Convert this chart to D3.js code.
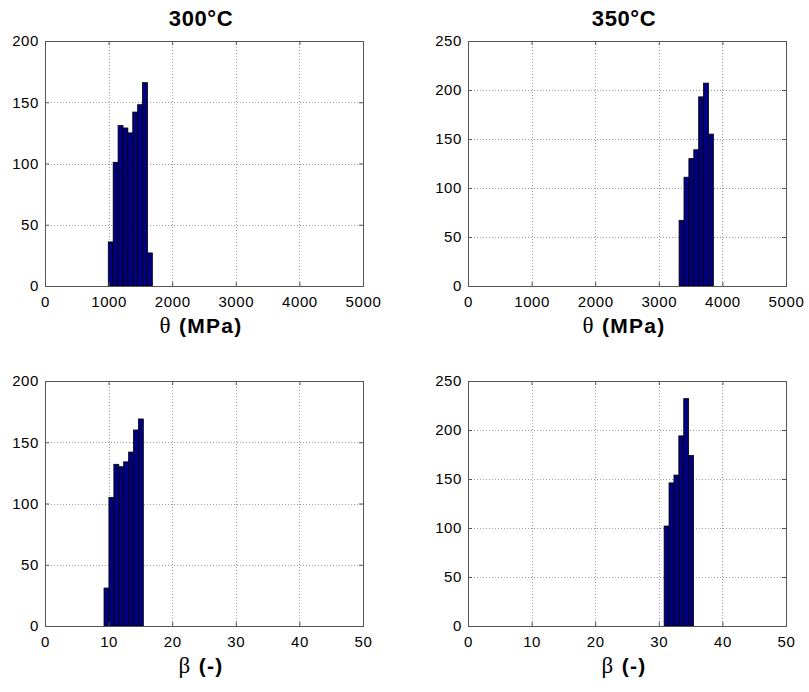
<!DOCTYPE html>
<html>
<head>
<meta charset="utf-8">
<script src="https://cdn.jsdelivr.net/npm/d3@7/dist/d3.min.js"></script>
<style>
  html, body { margin: 0; padding: 0; background: #fff; }
  svg { display: block; }
  .tick text { font-family: "Liberation Sans", Arial, sans-serif; font-size: 15px; letter-spacing: 0.6px; fill: #000; }
</style>
</head>
<body>
<svg id="chart" width="809" height="692"></svg>
<script>
// Histogram bins: lower edges (last entry closes the final bin) and counts per bin
const theta300Edges = [995, 1072, 1149, 1226, 1303, 1380, 1457, 1534, 1611, 1688];
const theta300Counts = [36, 101, 131, 129, 125, 142, 148, 166, 27];

const theta350Edges = [3319, 3396, 3473, 3550, 3627, 3704, 3781, 3858];
const theta350Counts = [67, 111, 130, 139, 193, 207, 155];

const beta300Edges = [9.28, 10.05, 10.83, 11.60, 12.37, 13.15, 13.92, 14.69, 15.46];
const beta300Counts = [31, 105, 132, 130, 134, 142, 160, 169];

const beta350Edges = [30.84, 31.61, 32.38, 33.15, 33.92, 34.69, 35.46];
const beta350Counts = [102, 146, 154, 194, 232, 174];

// Axis ticks
const thetaTicks = [0, 1000, 2000, 3000, 4000, 5000];
const betaTicks = [0, 10, 20, 30, 40, 50];
const count200Ticks = [0, 50, 100, 150, 200];
const count250Ticks = [0, 50, 100, 150, 200, 250];

const titles = ["300°C", "350°C"];

const svg = d3.select("#chart");
const W = 318, H = 245;

const panels = [
  { left: 45,  top: 41,  edges: theta300Edges, counts: theta300Counts, xMax: 5000, xTicks: thetaTicks, yMax: 200, yTicks: count200Ticks, title: titles[0], sym: "θ", unit: " (MPa)" },
  { left: 468, top: 41,  edges: theta350Edges, counts: theta350Counts, xMax: 5000, xTicks: thetaTicks, yMax: 250, yTicks: count250Ticks, title: titles[1], sym: "θ", unit: " (MPa)" },
  { left: 45,  top: 381, edges: beta300Edges,  counts: beta300Counts,  xMax: 50,   xTicks: betaTicks,  yMax: 200, yTicks: count200Ticks, sym: "β", unit: " (-)" },
  { left: 468, top: 381, edges: beta350Edges,  counts: beta350Counts,  xMax: 50,   xTicks: betaTicks,  yMax: 250, yTicks: count250Ticks, sym: "β", unit: " (-)" }
];

panels.forEach(p => {
  const g = svg.append("g").attr("transform", `translate(${p.left},${p.top})`);
  const x = d3.scaleLinear().domain([0, p.xMax]).range([0, W]);
  const y = d3.scaleLinear().domain([0, p.yMax]).range([H, 0]);

  // dotted grid
  const grid = g.append("g").attr("stroke", "#9a9a9a").attr("stroke-width", 1).attr("stroke-dasharray", "1,2");
  grid.selectAll(".gx").data(p.xTicks.slice(1, -1)).join("line")
    .attr("x1", d => Math.round(x(d)) + 0.5).attr("x2", d => Math.round(x(d)) + 0.5)
    .attr("y1", 0).attr("y2", H);
  grid.selectAll(".gy").data(p.yTicks.slice(1, -1)).join("line")
    .attr("y1", d => Math.round(y(d)) + 0.5).attr("y2", d => Math.round(y(d)) + 0.5)
    .attr("x1", 0).attr("x2", W);

  // bars
  const bins = p.counts.map((c, i) => ({ x0: p.edges[i], x1: p.edges[i + 1], c }));
  g.append("g").selectAll("rect").data(bins).join("rect")
    .attr("x", d => x(d.x0))
    .attr("width", d => x(d.x1) - x(d.x0))
    .attr("y", d => y(d.c))
    .attr("height", d => H - y(d.c))
    .attr("fill", "#000080")
    .attr("stroke", "#000")
    .attr("stroke-width", 0.8);

  // axes with inward ticks on all four sides
  const axB = g.append("g").attr("transform", `translate(0,${H})`)
    .call(d3.axisBottom(x).tickValues(p.xTicks).tickFormat(d3.format("d")).tickSizeInner(-4).tickSizeOuter(0).tickPadding(10));
  const axL = g.append("g")
    .call(d3.axisLeft(y).tickValues(p.yTicks).tickFormat(d3.format("d")).tickSizeInner(-4).tickSizeOuter(0).tickPadding(6));
  const axT = g.append("g")
    .call(d3.axisTop(x).tickValues(p.xTicks).tickFormat("").tickSizeInner(-4).tickSizeOuter(0));
  const axR = g.append("g").attr("transform", `translate(${W},0)`)
    .call(d3.axisRight(y).tickValues(p.yTicks).tickFormat("").tickSizeInner(-4).tickSizeOuter(0));
  [axB, axL, axT, axR].forEach(a => {
    a.select(".domain").remove();
    a.selectAll(".tick line").attr("stroke", "#555");
  });

  // frame
  g.append("rect").attr("x", 0.5).attr("y", 0.5).attr("width", W).attr("height", H)
    .attr("fill", "none").attr("stroke", "#555").attr("stroke-width", 1);

  // x label
  const xl = g.append("text").attr("x", W / 2 - 3).attr("y", H + 47)
    .attr("text-anchor", "middle")
    .attr("font-family", "Liberation Sans, Arial, sans-serif")
    .attr("font-size", 21).attr("font-weight", "bold")
    .attr("letter-spacing", 1.3);
  xl.append("tspan").attr("font-family", "Liberation Serif, Times New Roman, serif").attr("font-weight", "normal").attr("font-size", 23).text(p.sym);
  xl.append("tspan").text(p.unit);

  // title
  if (p.title) {
    g.append("text").attr("x", W / 2 - 3).attr("y", -15)
      .attr("text-anchor", "middle")
      .attr("font-family", "Liberation Sans, Arial, sans-serif")
      .attr("font-size", 22).attr("font-weight", "bold")
      .attr("letter-spacing", 0.6)
      .text(p.title);
  }
});
</script>
</body>
</html>
